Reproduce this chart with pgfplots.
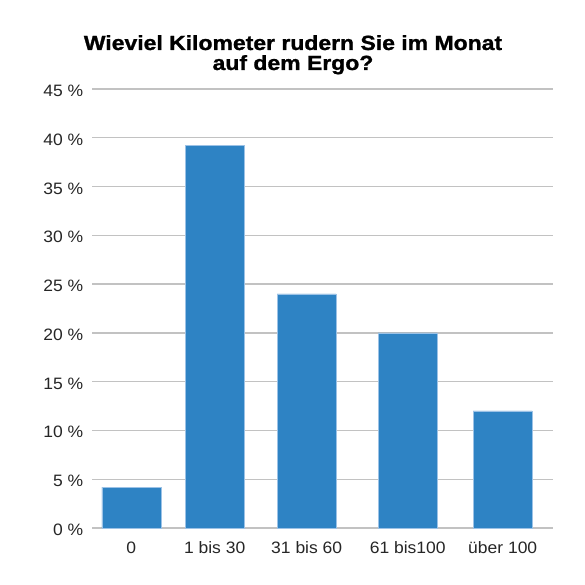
\documentclass[border=0pt]{standalone}
\usepackage{fontspec}
\setmainfont{Liberation Sans}
\newfontfamily\titlefont{Liberation Sans}[FakeStretch=1.12, FakeBold=1.2, UprightFont=*-Bold]
\newfontfamily\tickfont{Liberation Sans}[FakeStretch=1.06]
\usepackage{pgfplots}
\pgfplotsset{compat=1.18}
\definecolor{barblue}{HTML}{2E83C4}
\definecolor{baredge}{HTML}{9CC2E6}
\definecolor{gridgray}{HTML}{C2C2C2}
\begin{document}
\begin{tikzpicture}
\useasboundingbox[fill=white] (0,0) rectangle (585pt,585pt);
\node[anchor=base, inner sep=0pt, font=\fontsize{20.5}{22}\titlefont] at (293pt,535pt) {Wieviel Kilometer rudern Sie im Monat};
\node[anchor=base, inner sep=0pt, font=\fontsize{20.5}{22}\titlefont] at (293pt,515pt) {auf dem Ergo?};
\begin{axis}[
  at={(92pt,57pt)}, anchor=south west,
  width=461pt, height=439pt, scale only axis,
  xmin=92, xmax=553, ymin=0, ymax=45,
  axis line style={draw=none},
  ytick={0,5,...,45},
  yticklabels={0 \%,5 \%,10 \%,15 \%,20 \%,25 \%,30 \%,35 \%,40 \%,45 \%},
  xtick={131.3,214.7,306.7,407.7,502.7},
  xticklabels={0,1 bis 30,31 bis 60,61 bis100,über 100},
  major tick length=0pt,
  ymajorgrids, grid style={gridgray, line width=1.4pt},
  yticklabel style={anchor=base east, xshift=-8.5pt, yshift=-7.5pt, inner sep=0pt, font=\fontsize{16.5}{18}\tickfont, text=black!85},
  xticklabel style={anchor=base, yshift=-26pt, inner sep=0pt, font=\fontsize{16.5}{18}\tickfont, text=black!85},
  tick label style={/pgf/number format/assume math mode=true},
  clip=false,
]
\addplot[ybar, bar width=59, fill=barblue, draw=baredge, line width=0.6pt] coordinates {
  (131.3,4.2) (214.7,39.25) (306.7,24.0) (407.7,20.0) (502.7,12.0)
};
\end{axis}
\end{tikzpicture}
\end{document}
